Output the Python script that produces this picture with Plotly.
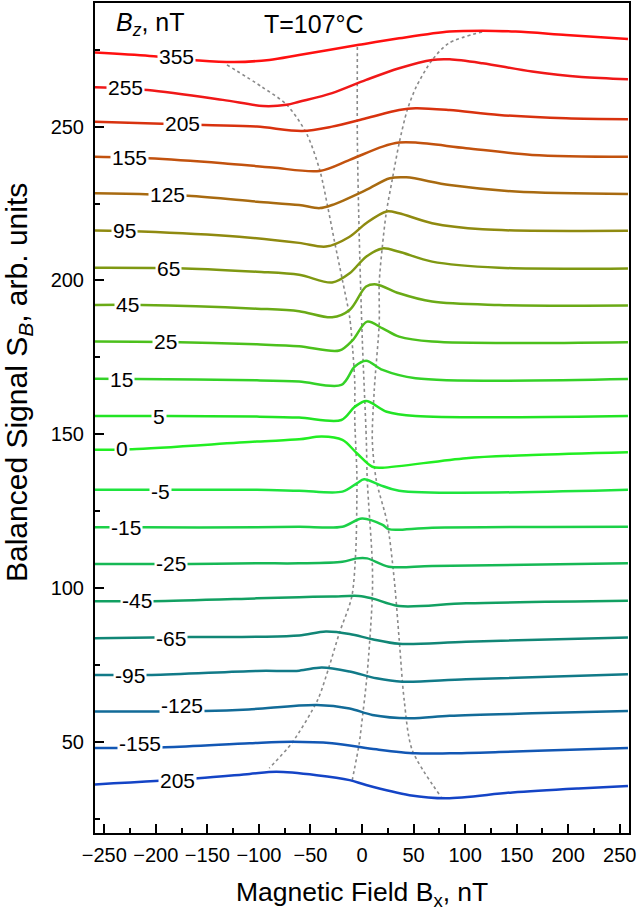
import plotly.graph_objects as go

# ---- data (x in nT, y in arb. units) ----
labels = ['355', '255', '205', '155', '125', '95', '65', '45', '25', '15', '5', '0',
          '-5', '-15', '-25', '-45', '-65', '-95', '-125', '-155', '205']
colors = ['#ff1010', '#f01818', '#d8320e', '#c2520e', '#a86a10', '#8f8a10', '#7f9812',
          '#6aaa16', '#4cc01c', '#34d228', '#22e424', '#22ee22', '#1ee43e', '#1cd048',
          '#16b855', '#12a062', '#118676', '#117a88', '#126b98', '#1257b4', '#1444c6']

X_355 = [-259, -206, -158, -124, -90, -61, -3, 36, 85, 117, 149, 198, 258]
Y_355 = [274.1, 273.0, 271.5, 271.0, 271.7, 273.3, 276.6, 278.7, 280.9, 281.2, 280.9, 279.8, 278.5]
X_255 = [-259, -208, -135, -96, -73, -61, -29, 4, 36, 68, 85, 117, 165, 213, 258]
Y_255 = [262.8, 261.9, 258.7, 256.7, 257.1, 258.1, 260.9, 265.2, 269.0, 271.7, 271.9, 270.6, 267.9, 266.1, 265.4]
X_205 = [-259, -153, -102, -58, -29, 4, 36, 52, 85, 133, 198, 258]
Y_205 = [251.6, 250.5, 250.0, 248.6, 250.0, 252.7, 255.4, 256.0, 255.4, 253.8, 252.7, 252.4]
X_155 = [-259, -208, -135, -87, -41, -12, 20, 36, 52, 101, 165, 258]
Y_155 = [240.2, 239.7, 238.1, 236.7, 235.6, 239.2, 243.5, 244.8, 244.8, 243.0, 240.8, 240.2]
X_125 = [-259, -169, -102, -61, -41, -29, 4, 27, 43, 85, 149, 258]
Y_125 = [228.3, 227.5, 225.6, 224.5, 223.5, 224.5, 229.4, 233.2, 233.5, 231.0, 228.9, 228.1]
X_95 = [-259, -214, -119, -61, -35, -12, 4, 24, 36, 68, 117, 258]
Y_95 = [216.2, 215.9, 214.2, 212.2, 211.0, 214.2, 218.6, 222.4, 221.8, 218.6, 216.6, 216.1]
X_65 = [-259, -172, -102, -61, -29, -12, 4, 20, 36, 68, 133, 258]
Y_65 = [204.1, 203.9, 202.8, 201.8, 199.3, 202.3, 207.7, 210.4, 209.3, 206.1, 204.1, 203.9]
X_45 = [-259, -214, -102, -61, -29, -12, 4, 14, 36, 68, 133, 258]
Y_45 = [192.0, 192.0, 190.8, 190.0, 188.0, 190.4, 198.0, 198.7, 195.8, 193.1, 192.0, 191.8]
X_25 = [-259, -177, -102, -61, -22, -9, 5, 20, 36, 68, 258]
Y_25 = [180.1, 179.9, 179.2, 178.6, 177.2, 180.6, 186.6, 184.4, 181.7, 180.1, 179.9]
X_15 = [-259, -220, -102, -61, -20, -7, 4, 20, 52, 258]
Y_15 = [168.0, 167.9, 167.5, 167.1, 166.0, 172.0, 173.9, 170.9, 168.2, 167.9]
X_5 = [-259, -189, -102, -61, -20, -7, 4, 24, 52, 258]
Y_5 = [155.9, 155.9, 155.7, 155.4, 154.6, 158.9, 160.8, 157.3, 155.9, 155.9]
X_0 = [-259, -223, -102, -61, -39, -19, -5, 10, 20, 101, 165, 258]
Y_0 = [144.9, 145.1, 147.6, 148.3, 149.2, 148.1, 143.8, 139.4, 139.1, 142.2, 143.2, 144.1]
X_m5 = [-259, -182, -102, -61, -19, -5, 2, 17, 36, 258]
Y_m5 = [131.9, 131.9, 131.9, 131.6, 131.3, 134.0, 135.3, 133.5, 131.6, 131.9]
X_m15 = [-259, -213, -102, -61, -19, 0, 20, 26, 68, 258]
Y_m15 = [119.7, 119.7, 119.7, 119.9, 119.9, 122.6, 120.5, 119.1, 119.6, 119.9]
X_m25 = [-259, -167, -102, -61, -19, -5, 5, 26, 68, 258]
Y_m25 = [107.8, 107.8, 108.0, 108.0, 108.5, 109.6, 109.6, 106.9, 107.1, 108.0]
X_m45 = [-259, -203, -102, -61, -29, -3, 10, 36, 101, 258]
Y_m45 = [95.7, 95.7, 96.6, 97.0, 97.2, 97.4, 96.6, 94.1, 95.0, 95.8]
X_m65 = [-259, -167, -102, -61, -35, -12, 10, 36, 101, 258]
Y_m65 = [83.6, 84.0, 84.1, 84.5, 85.8, 85.0, 83.3, 81.8, 82.5, 83.9]
X_m95 = [-259, -204, -102, -61, -39, -12, 14, 39, 101, 258]
Y_m95 = [71.7, 71.7, 73.0, 73.1, 74.1, 72.8, 70.6, 69.5, 70.3, 71.9]
X_m125 = [-259, -153, -110, -44, -12, 10, 46, 85, 165, 258]
Y_m125 = [59.8, 60.0, 60.5, 61.9, 60.8, 58.7, 57.6, 58.4, 59.2, 60.0]
X_m155 = [-259, -191, -109, -68, -29, 14, 52, 85, 133, 178, 258]
Y_m155 = [47.9, 48.2, 49.5, 50.0, 49.5, 47.5, 46.2, 46.2, 46.6, 47.1, 47.9]
X_m205 = [-259, -159, -109, -83, -44, -12, 4, 46, 82, 146, 210, 258]
Y_m205 = [36.1, 38.1, 39.5, 40.2, 39.1, 37.5, 35.9, 32.6, 31.6, 33.5, 34.8, 35.6]

curves_x = [X_355, X_255, X_205, X_155, X_125, X_95, X_65, X_45, X_25, X_15, X_5, X_0,
            X_m5, X_m15, X_m25, X_m45, X_m65, X_m95, X_m125, X_m155, X_m205]
curves_y = [Y_355, Y_255, Y_205, Y_155, Y_125, Y_95, Y_65, Y_45, Y_25, Y_15, Y_5, Y_0,
            Y_m5, Y_m15, Y_m25, Y_m45, Y_m65, Y_m95, Y_m125, Y_m155, Y_m205]

# label positions (data coords)
label_x = [-180, -229, -174, -226, -189, -230, -188, -227, -191, -233, -197, -233,
           -195, -229, -185, -218, -185, -225, -175, -215, -179]
label_y = [272.7, 262.6, 250.9, 240.1, 227.8, 216.1, 204.0, 192.0, 180.0, 167.9, 155.9, 145.2,
           131.5, 119.8, 107.8, 95.8, 83.7, 71.4, 61.9, 49.3, 37.5]

# dotted guide lines
guide_left_x = [-131, -97, -73, -54, -41, -33, -27, -19, -12, -9, -7, -7, -5, -5, -6, -10, -22, -32, -43, -68, -90]
guide_left_y = [270.1, 262.9, 257.1, 247.9, 235.9, 223.5, 213.2, 200.1, 188.1, 177.4, 166.6, 154.6, 137.4, 128.6, 112.3, 97.0, 85.3, 74.3, 63.6, 49.6, 41.4]
guide_mid_x = [-4.5, -4.5, -2.6, 0.3, 4.2, 5.1, 10.0, 10.0, 5.1, -0.7, -2.6, -9.4]
guide_mid_y = [275.9, 245.7, 213.2, 180.6, 148.1, 135.1, 108.1, 97.1, 72.3, 54.8, 49.6, 37.6]
guide_right_x = [116.5, 84.5, 68.1, 52.6, 43.9, 36.1, 29.3, 23.5, 19.7, 16.7, 16.7, 11.9, 10.0, 13.8, 24.5, 31.3, 36.1, 40.9, 48.7, 76.8]
guide_right_y = [280.8, 277.2, 271.7, 262.9, 255.4, 244.7, 232.7, 221.9, 210.9, 199.2, 186.2, 164.4, 148.1, 135.1, 121.1, 102.6, 83.1, 63.6, 47.3, 32.0]

FONT = "Liberation Sans, Arial, sans-serif"

fig = go.Figure()
for gx, gy in [(guide_left_x, guide_left_y), (guide_mid_x, guide_mid_y), (guide_right_x, guide_right_y)]:
    fig.add_trace(go.Scatter(x=gx, y=gy, mode='lines',
                             line=dict(color='#8a8a8a', width=1.6, dash='dot', shape='spline', smoothing=0.8),
                             showlegend=False, hoverinfo='skip'))

for cx, cy, col in zip(curves_x, curves_y, colors):
    fig.add_trace(go.Scatter(x=cx, y=cy, mode='lines',
                             line=dict(color=col, width=2.5, shape='spline', smoothing=0.9),
                             showlegend=False))

annotations = []
for lx, ly, lt in zip(label_x, label_y, labels):
    annotations.append(dict(x=lx, y=ly, xref='x', yref='y', text=lt, showarrow=False,
                            xanchor='center', yanchor='middle',
                            font=dict(family=FONT, size=21, color='black'),
                            bgcolor='white', borderpad=1))

W, H = 637, 916
ML, MR, MT, MB = 95, 8, 3, 83
pw, ph = W - ML - MR, H - MT - MB

annotations += [
    dict(x=(150 - ML) / pw, y=(H - MB - 24) / ph, xref='paper', yref='paper',
         text='<i>B<sub>z</sub></i>, nT', showarrow=False, xanchor='center', yanchor='middle',
         font=dict(family=FONT, size=25, color='black')),
    dict(x=(314 - ML) / pw, y=(H - MB - 24) / ph, xref='paper', yref='paper',
         text='T=107°C', showarrow=False, xanchor='center', yanchor='middle',
         font=dict(family=FONT, size=25, color='black')),
    dict(x=0.5, y=0, xref='paper', yref='paper', yshift=-61, xanchor='center', yanchor='middle',
         text='Magnetic Field B<sub>x</sub>, nT', showarrow=False,
         font=dict(family=FONT, size=26.5, color='black')),
    dict(x=0, y=(H - MB - 383) / ph, xref='paper', yref='paper', xshift=-77,
         xanchor='center', yanchor='middle',
         text='Balanced Signal S<sub><i>B</i></sub>, arb. units', textangle=-90, showarrow=False,
         font=dict(family=FONT, size=30, color='black')),
]

axis_common = dict(showline=True, linewidth=2, linecolor='black', mirror=True,
                   showgrid=False, zeroline=False, ticks='inside', ticklen=9, tickwidth=1.6,
                   tickcolor='black', tickfont=dict(family=FONT, size=20, color='black'),
                   automargin=False)

fig.update_layout(
    width=W, height=H,
    margin=dict(l=ML, r=MR, t=MT, b=MB),
    paper_bgcolor='white', plot_bgcolor='white',
    annotations=annotations,
    xaxis=dict(range=[-259, 259], tick0=0, dtick=50, ticklabelstandoff=3,
               minor=dict(dtick=25, ticks='inside', ticklen=5, tickwidth=1.6, tickcolor='black'),
               **axis_common),
    yaxis=dict(range=[20.3, 290.2], tick0=0, dtick=50, ticklabelstandoff=5,
               minor=dict(dtick=25, ticks='inside', ticklen=5, tickwidth=1.6, tickcolor='black'),
               **axis_common),
)

fig.write_html("out.html", config={'displayModeBar': False},
               post_script="document.body.style.margin='0';document.body.style.padding='0';")
